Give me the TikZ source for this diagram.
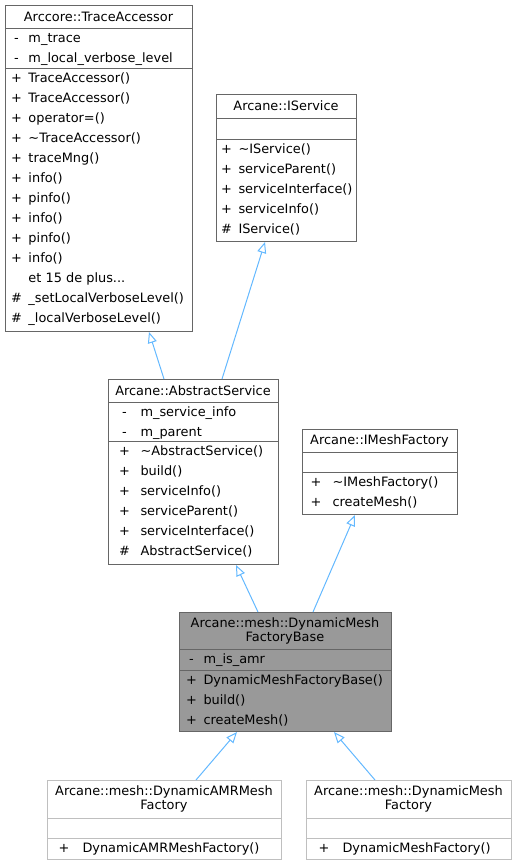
\documentclass[tikz,border=0pt]{standalone}
\usepackage{fontspec}
\setmainfont{DejaVu Sans}
\usepackage{array}
\usetikzlibrary{%
  arrows.meta,% open triangle tips
  shapes%
}
\definecolor{boxline}{HTML}{666666}
\definecolor{boxlight}{HTML}{BFBFBF}
\definecolor{boxfill}{HTML}{999999}
\definecolor{inherit}{HTML}{63B8FF}
\newcommand{\memberfont}{\fontsize{12.9}{20}\selectfont}
\newcommand{\titlefont}{\fontsize{12.9}{14}\selectfont}

\begin{document}
\begin{tikzpicture}[
  x=1pt, y=-1pt, line width=1pt,
  classbox/.style={rectangle, draw=boxline, fill=white, anchor=north west, inner sep=0pt},
  title/.style={align=center, inner sep=0pt, font=\titlefont},
  members/.style={anchor=north west, inner sep=0pt, font=\memberfont},
  sep/.style={draw=boxline},
  derived/.style={draw=inherit, -{Triangle[open, length=11pt, width=9pt]}}
]
\useasboundingbox (0,0) rectangle (515,865);

% Arccore::TraceAccessor
\node[classbox, minimum width=187pt, minimum height=326pt] (ta) at (5,5) {};
\draw[sep] (5,28) -- (192,28);
\draw[sep] (5,68) -- (192,68);
\node[title] (ta-name) at (98.5,16.5) {Arccore::TraceAccessor};
\node[members] (ta-attr) at (4,28) {\begin{tabular}{@{}wc{24pt}@{}l@{}}
  - & m\_trace\\
  - & m\_local\_verbose\_level
\end{tabular}};
\node[members] (ta-meth) at (4,68) {\begin{tabular}{@{}wc{24pt}@{}l@{}}
  + & TraceAccessor()\\
  + & TraceAccessor()\\
  + & operator=()\\
  + & \char"007E TraceAccessor()\\
  + & traceMng()\\
  + & info()\\
  + & pinfo()\\
  + & info()\\
  + & pinfo()\\
  + & info()\\
    & et 15 de plus...\\
  \# & \_setLocalVerboseLevel()\\
  \# & \_localVerboseLevel()
\end{tabular}};

% Arcane::IService
\node[classbox, minimum width=140pt, minimum height=147pt] (is) at (216,94) {};
\draw[sep] (216,118) -- (356,118);
\draw[sep] (216,139) -- (356,139);
\node[title] (is-name) at (286,106) {Arcane::IService};
\node[members] (is-meth) at (214,139) {\begin{tabular}{@{}wc{24pt}@{}l@{}}
  + & \char"007E IService()\\
  + & serviceParent()\\
  + & serviceInterface()\\
  + & serviceInfo()\\
  \# & IService()
\end{tabular}};

% Arcane::AbstractService
\node[classbox, minimum width=170pt, minimum height=185pt] (as) at (108,379) {};
\draw[sep] (108,402) -- (278,402);
\draw[sep] (108,441) -- (278,441);
\node[title] (as-name) at (193,390.5) {Arcane::AbstractService};
\node[members] (as-attr) at (108,402) {\begin{tabular}{@{}wc{32pt}@{}l@{}}
  - & m\_service\_info\\
  - & m\_parent
\end{tabular}};
\node[members] (as-meth) at (108,441) {\begin{tabular}{@{}wc{32pt}@{}l@{}}
  + & \char"007E AbstractService()\\
  + & build()\\
  + & serviceInfo()\\
  + & serviceParent()\\
  + & serviceInterface()\\
  \# & AbstractService()
\end{tabular}};

% Arcane::IMeshFactory
\node[classbox, minimum width=155pt, minimum height=85pt] (imf) at (302,429) {};
\draw[sep] (302,452) -- (457,452);
\draw[sep] (302,472) -- (457,472);
\node[title] (imf-name) at (379.5,440.5) {Arcane::IMeshFactory};
\node[members] (imf-meth) at (299,472) {\begin{tabular}{@{}wc{33pt}@{}l@{}}
  + & \char"007E IMeshFactory()\\
  + & createMesh()
\end{tabular}};

% Arcane::mesh::DynamicMeshFactoryBase
\node[classbox, fill=boxfill, minimum width=212pt, minimum height=119pt] (dmfb) at (179,612) {};
\draw[sep] (179,649) -- (391,649);
\draw[sep] (179,670) -- (391,670);
\node[title] (dmfb-name) at (285,630.5) {Arcane::mesh::DynamicMesh\\FactoryBase};
\node[members] (dmfb-attr) at (179,649) {\begin{tabular}{@{}wc{24pt}@{}l@{}}
  - & m\_is\_amr
\end{tabular}};
\node[members] (dmfb-meth) at (179,670) {\begin{tabular}{@{}wc{24pt}@{}l@{}}
  + & DynamicMeshFactoryBase()\\
  + & build()\\
  + & createMesh()
\end{tabular}};

% Arcane::mesh::DynamicAMRMeshFactory
\node[classbox, draw=boxlight, minimum width=234pt, minimum height=79pt] (amr) at (47,780) {};
\draw[sep, boxlight] (47,818) -- (281,818);
\draw[sep, boxlight] (47,838) -- (281,838);
\node[title] (amr-name) at (164,799) {Arcane::mesh::DynamicAMRMesh\\Factory};
\node[members] (amr-meth) at (45,838) {\begin{tabular}{@{}wc{37pt}@{}l@{}}
  + & DynamicAMRMeshFactory()
\end{tabular}};

% Arcane::mesh::DynamicMeshFactory
\node[classbox, draw=boxlight, minimum width=205pt, minimum height=79pt] (dmf) at (306,780) {};
\draw[sep, boxlight] (306,818) -- (511,818);
\draw[sep, boxlight] (306,838) -- (511,838);
\node[title] (dmf-name) at (408.5,799) {Arcane::mesh::DynamicMesh\\Factory};
\node[members] (dmf-meth) at (305,838) {\begin{tabular}{@{}wc{37pt}@{}l@{}}
  + & DynamicMeshFactory()
\end{tabular}};

% inheritance
\draw[derived] ([xshift=56pt]as.north west) -- ([xshift=144pt]ta.south west);
\draw[derived] ([xshift=114pt]as.north west) -- ([xshift=49pt]is.south west);
\draw[derived] ([xshift=79pt]dmfb.north west) -- ([xshift=128pt]as.south west);
\draw[derived] ([xshift=134pt]dmfb.north west) -- ([xshift=53pt]imf.south west);
\draw[derived] ([xshift=149pt]amr.north west) -- ([xshift=58pt]dmfb.south west);
\draw[derived] ([xshift=69pt]dmf.north west) -- ([xshift=155pt]dmfb.south west);
\end{tikzpicture}
\end{document}
